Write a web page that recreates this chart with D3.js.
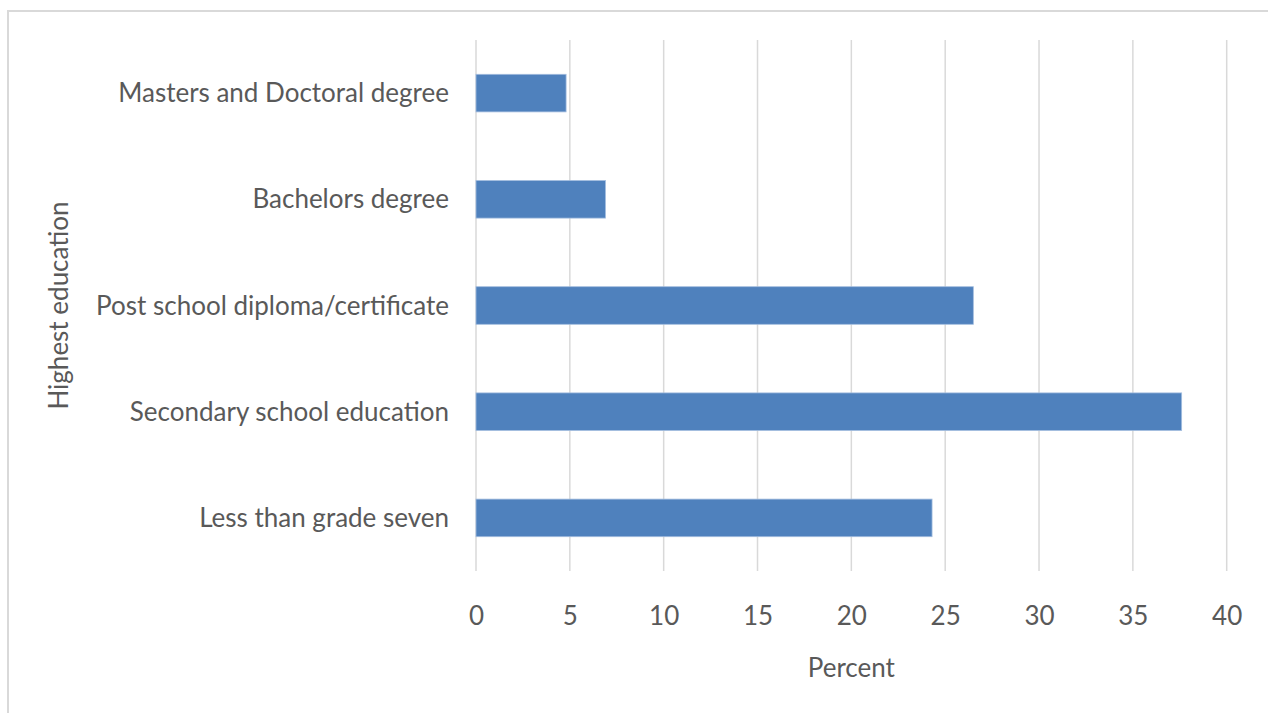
<!DOCTYPE html>
<html>
<head>
<meta charset="utf-8">
<script src="https://cdn.jsdelivr.net/npm/d3@7"></script>
<style>
  html, body { margin: 0; padding: 0; background: #ffffff; }
  svg { display: block; }
  text { font-family: Lato, "Open Sans", sans-serif; fill: #595959; }
</style>
</head>
<body>
<svg id="chart" width="1268" height="713"></svg>
<script>
// Highest level of education attained, share of respondents (%)
const categories = [
  "Masters and Doctoral degree",
  "Bachelors degree",
  "Post school diploma/certificate",
  "Secondary school education",
  "Less than grade seven"
];
const percents = [4.8, 6.9, 26.5, 37.6, 24.3];
const xTicks = [0, 5, 10, 15, 20, 25, 30, 35, 40];
const xTitle = "Percent";
const yTitle = "Highest education";

const W = 1268, H = 713;
const plot = { left: 476, right: 1226.7, top: 40, bottom: 571 };
const fontSize = 26;

const svg = d3.select("#chart");

// outer chart frame (runs past the right and bottom edge of the view)
svg.append("rect")
  .attr("x", 8).attr("y", 11)
  .attr("width", W + 40).attr("height", H + 40)
  .attr("fill", "none")
  .attr("stroke", "#d9d9d9")
  .attr("stroke-width", 2);

const x = d3.scaleLinear().domain([0, 40]).range([plot.left, plot.right]);
const y = d3.scaleBand()
  .domain(categories)
  .range([plot.top, plot.bottom])
  .paddingInner(0.646)
  .paddingOuter(0.323);

// vertical gridlines
svg.append("g")
  .selectAll("line")
  .data(xTicks)
  .join("line")
  .attr("x1", d => x(d)).attr("x2", d => x(d))
  .attr("y1", plot.top).attr("y2", plot.bottom)
  .attr("stroke", "#d9d9d9")
  .attr("stroke-width", 1.5);

// bars
svg.append("g")
  .selectAll("rect")
  .data(categories.map((c, i) => ({ c, v: percents[i] })))
  .join("rect")
  .attr("x", x(0))
  .attr("y", d => y(d.c))
  .attr("width", d => x(d.v) - x(0))
  .attr("height", y.bandwidth())
  .attr("fill", "#4f81bd")
  .attr("stroke", "#a3bddf")
  .attr("stroke-width", 0.8);

// x axis tick labels
const xAxis = d3.axisBottom(x).tickValues(xTicks).tickSize(0).tickPadding(0);
const gx = svg.append("g")
  .attr("transform", `translate(0, ${plot.bottom})`)
  .call(xAxis);
gx.select(".domain").remove();
gx.selectAll("text")
  .attr("y", 53.5)
  .attr("dy", null)
  .attr("fill", "#595959")
  .style("font-size", fontSize + "px")
  .style("font-family", "Lato, 'Open Sans', sans-serif");

// y axis category labels
const yAxis = d3.axisLeft(y).tickSize(0).tickPadding(0);
const gy = svg.append("g")
  .attr("transform", `translate(449, 0)`)
  .call(yAxis);
gy.select(".domain").remove();
gy.selectAll("text")
  .attr("x", 0)
  .attr("dy", "0.35em")
  .attr("fill", "#595959")
  .style("font-size", fontSize + "px")
  .style("font-family", "Lato, 'Open Sans', sans-serif");

// axis titles
svg.append("text")
  .attr("x", (plot.left + plot.right) / 2)
  .attr("y", 677)
  .attr("text-anchor", "middle")
  .style("font-size", fontSize + "px")
  .text(xTitle);

svg.append("text")
  .attr("transform", `translate(68, ${(plot.top + plot.bottom) / 2}) rotate(-90)`)
  .attr("text-anchor", "middle")
  .style("font-size", fontSize + "px")
  .text(yTitle);
</script>
</body>
</html>
